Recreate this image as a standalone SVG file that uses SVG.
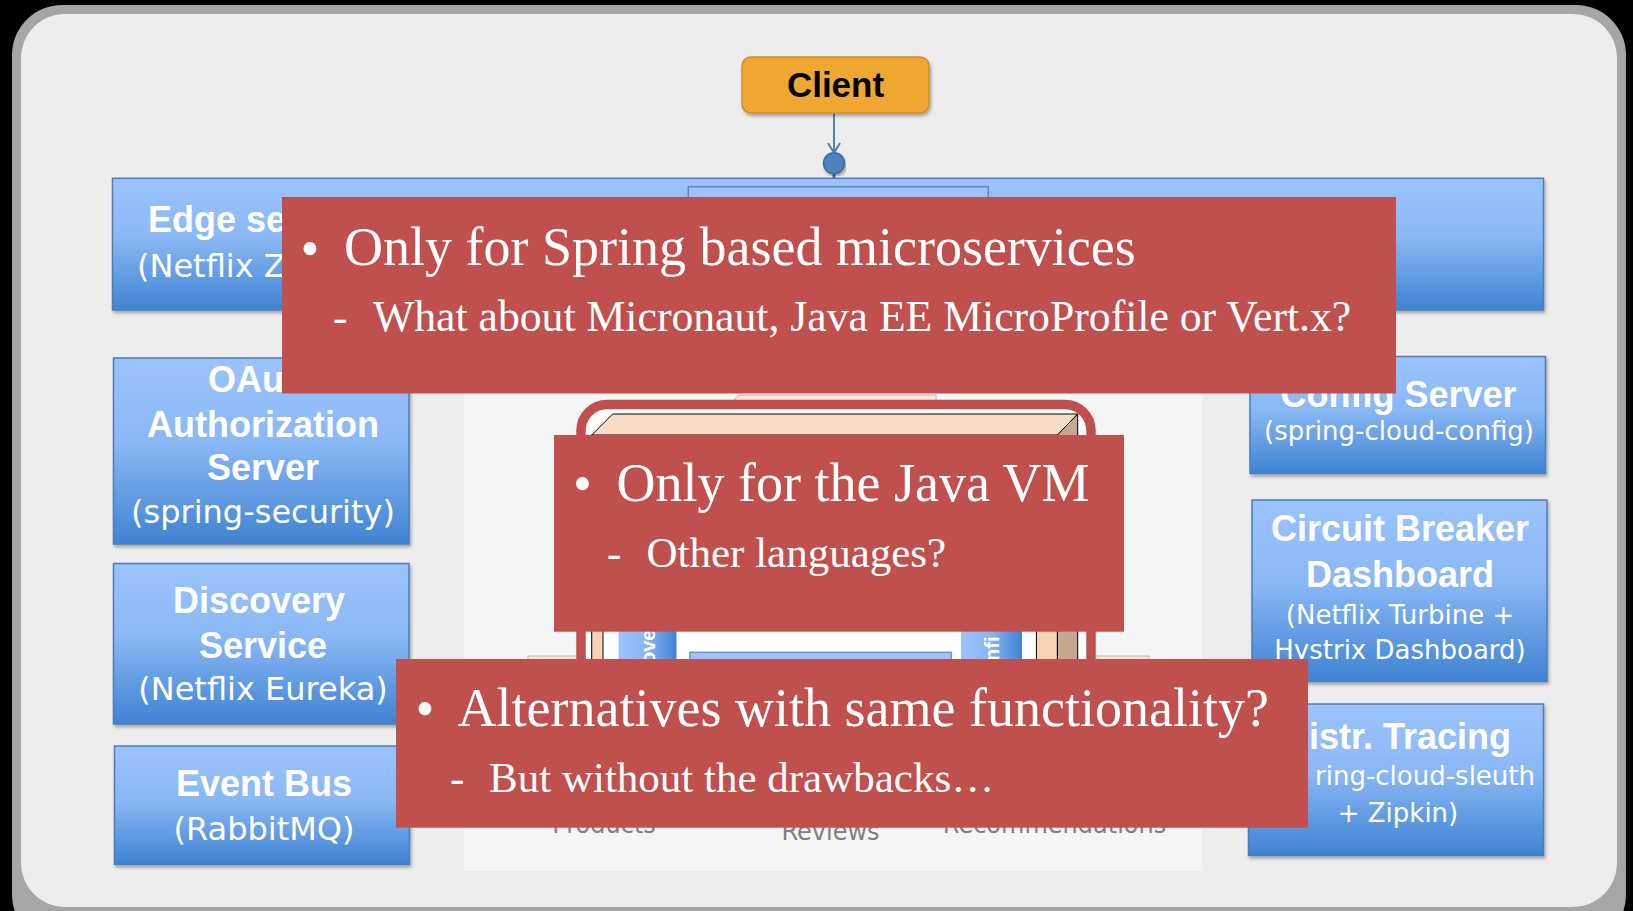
<svg xmlns="http://www.w3.org/2000/svg" width="1633" height="911" viewBox="0 0 1633 911">
<defs>
<linearGradient id="blueV" x1="0" y1="0" x2="0" y2="1">
<stop offset="0" stop-color="#9cc3fc"/>
<stop offset="0.45" stop-color="#8ab8f5"/>
<stop offset="1" stop-color="#3f83d2"/>
</linearGradient>
<linearGradient id="blueH" x1="0" y1="0" x2="1" y2="0">
<stop offset="0" stop-color="#9cc3fc"/>
<stop offset="0.5" stop-color="#86b5f4"/>
<stop offset="1" stop-color="#3f83d2"/>
</linearGradient>
<filter id="sh" x="-5%" y="-5%" width="112%" height="115%">
<feDropShadow dx="1.5" dy="2.5" stdDeviation="1.5" flood-color="#000" flood-opacity="0.3"/>
</filter>
</defs>
<style>
.box{fill:url(#blueV);stroke:#4a7ebb;stroke-width:1.5;filter:url(#sh)}
.bt{font-family:"Liberation Sans",Arial,sans-serif;font-weight:bold;font-size:36px;fill:#fff;text-anchor:middle}
.rt{font-family:"DejaVu Sans",sans-serif;font-size:32px;fill:#fff;text-anchor:middle}
.rs{font-size:26px}
.ov{fill:#c0504d}
.ot{font-family:"Liberation Serif","Times New Roman",serif;fill:#fff;font-size:54px}
.os{font-size:43px}
.gt{font-family:"DejaVu Sans",sans-serif;font-size:24px;fill:#7f7f7f;text-anchor:middle}
.vb{font-family:"Liberation Sans",Arial,sans-serif;font-weight:bold;font-size:20px;fill:#fff}
.cn{fill:none;stroke:#4f81bd;stroke-width:2}
</style>
<rect x="0" y="0" width="1633" height="911" fill="#000"/>
<rect x="12" y="5" width="1614" height="940" rx="50" fill="#a6a6a6"/>
<rect x="21" y="14" width="1596" height="893" rx="44" fill="#ededed"/>

<g id="panel">
<rect x="464" y="380" width="738" height="491" fill="#f5f5f5"/>
<path d="M739,395 L936,395 L936,470 L733,470 L733,401 Z" fill="#fbe6d6" stroke="#b5b5b5" stroke-width="1"/>
<line x1="927" y1="402" x2="927" y2="470" stroke="#b5b5b5"/>
<rect x="528" y="656" width="50" height="80" fill="#fbe6d6" stroke="#b5b5b5" stroke-width="1"/>
<rect x="1090" y="656" width="59" height="80" fill="#fbe6d6" stroke="#b5b5b5" stroke-width="1"/>
<rect x="581" y="404.5" width="510" height="380" rx="26" fill="#fff" stroke="#c0504d" stroke-width="9.5"/>
<rect x="591.7" y="435" width="465.7" height="320" fill="#f6d3b4" stroke="#000" stroke-width="1"/>
<rect x="603" y="445" width="433.4" height="300" fill="#fff" stroke="#000" stroke-width="1"/>
<path d="M612.7,414 L1077.7,414 L1057.4,435 L591.7,435 Z" fill="#f8dcc5" stroke="#000" stroke-width="1"/>
<path d="M1077.7,414 L1077.7,735 L1057.4,755 L1057.4,435 Z" fill="#c4a88f" stroke="#000" stroke-width="1"/>
<rect x="618.5" y="450" width="58" height="280" fill="url(#blueH)"/>
<rect x="961" y="450" width="61" height="280" fill="url(#blueH)"/>
<text class="vb" transform="translate(655,664) rotate(-90)">ove</text>
<text class="vb" transform="translate(999,661) rotate(-90)">nfi</text>
<rect x="690" y="652.3" width="261.4" height="80" fill="#9cc3fc" stroke="#6f93c6" stroke-width="1.5"/>
<text class="gt" x="604" y="833">Products</text>
<text class="gt" x="830.5" y="840">Reviews</text>
<text class="gt" x="1054.5" y="833">Recommendations</text>
</g>

<g id="connectors">
<line class="cn" x1="834" y1="113" x2="834" y2="152"/>
<path class="cn" d="M828,143 L834,153 L840,143"/>
<line x1="834" y1="173" x2="834" y2="187" stroke="#3a6aa5" stroke-width="3"/>
<circle cx="834" cy="163.3" r="10.5" fill="#4f81bd" stroke="#3a6aa5" stroke-width="1.5" filter="url(#sh)"/>
</g>

<g id="client">
<rect x="742" y="57" width="187" height="56" rx="9" fill="#f0a733" stroke="#cf8f27" stroke-width="1.5" filter="url(#sh)"/>
<text x="835.5" y="97" font-family="Liberation Sans,Arial,sans-serif" font-weight="bold" font-size="35" fill="#000" text-anchor="middle">Client</text>
</g>

<g id="edge">
<rect class="box" x="112.5" y="178.3" width="1431" height="131.7"/>
<rect x="688.3" y="186.7" width="300" height="60" fill="#9cc3fc" stroke="#5b86c0" stroke-width="1.5"/>
<text class="bt" x="148" y="231.5" style="text-anchor:start">Edge se</text>
<text class="rt" x="137" y="276.5" style="text-anchor:start">(Netflix Z</text>
</g>

<g id="oauth">
<rect class="box" x="113.5" y="358" width="295.5" height="186"/>
<text class="bt" x="208" y="392" style="text-anchor:start">OAu</text>
<text class="bt" x="263" y="437">Authorization</text>
<text class="bt" x="263" y="480">Server</text>
<text class="rt" x="263" y="523">(spring-security)</text>
</g>

<g id="discovery">
<rect class="box" x="113.5" y="563.5" width="295.5" height="160.5"/>
<text class="bt" x="259" y="613">Discovery</text>
<text class="bt" x="263" y="658">Service</text>
<text class="rt" x="263" y="700">(Netflix Eureka)</text>
</g>

<g id="eventbus">
<rect class="box" x="114.5" y="746" width="295" height="118.5"/>
<text class="bt" x="264" y="796">Event Bus</text>
<text class="rt" x="264" y="840">(RabbitMQ)</text>
</g>

<g id="config">
<rect class="box" x="1250" y="356.5" width="295.5" height="117"/>
<text class="bt" x="1398.5" y="406.5">Config Server</text>
<text class="rt rs" x="1399" y="440">(spring-cloud-config)</text>
</g>

<g id="circuit">
<rect class="box" x="1252" y="500" width="295" height="181.5"/>
<text class="bt" x="1400" y="541">Circuit Breaker</text>
<text class="bt" x="1400" y="587">Dashboard</text>
<text class="rt rs" x="1400" y="624">(Netflix Turbine +</text>
<text class="rt rs" x="1400" y="659">Hystrix Dashboard)</text>
</g>

<g id="tracing">
<rect class="box" x="1248.5" y="704" width="295" height="151.5"/>
<text class="bt" x="1511" y="749" style="text-anchor:end">istr. Tracing</text>
<text class="rt rs" x="1535" y="784.5" style="text-anchor:end">ring-cloud-sleuth</text>
<text class="rt rs" x="1398" y="822">+ Zipkin)</text>
</g>

<g id="overlay1">
<rect class="ov" x="282" y="197" width="1114" height="196.5"/>
<text class="ot" x="300.5" y="267">•</text>
<text class="ot" x="344" y="265">Only for Spring based microservices</text>
<text class="ot os" x="333" y="331">-</text>
<text class="ot os" x="373" y="331" style="font-size:43.7px">What about Micronaut, Java EE MicroProfile or Vert.x?</text>
</g>

<g id="overlay2">
<rect class="ov" x="554" y="435" width="570" height="196.7"/>
<text class="ot" x="573" y="502">•</text>
<text class="ot" x="616.5" y="501">Only for the Java VM</text>
<text class="ot os" x="607" y="567">-</text>
<text class="ot os" x="646.5" y="567">Other languages?</text>
</g>

<g id="overlay3">
<rect class="ov" x="396" y="659" width="912" height="168.7"/>
<text class="ot" x="415.5" y="727">•</text>
<text class="ot" x="457.6" y="726">Alternatives with same functionality?</text>
<text class="ot os" x="450" y="792">-</text>
<text class="ot os" x="489" y="792">But without the drawbacks…</text>
</g>
</svg>
